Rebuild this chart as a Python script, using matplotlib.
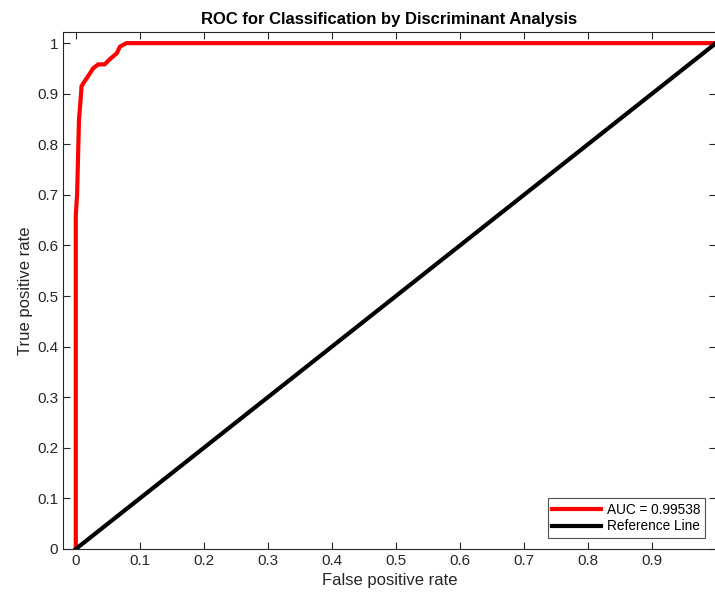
import matplotlib
matplotlib.use("Agg")
import matplotlib.pyplot as plt
import numpy as np

plt.rcParams['font.family'] = ['Liberation Sans', 'DejaVu Sans']

fpr = [0.0, 0.0, 0.0, 0.002, 0.003, 0.004, 0.005, 0.007, 0.009, 0.014, 0.022,
       0.027, 0.035, 0.045, 0.053, 0.064, 0.069, 0.079, 1.0]
tpr = [0.0, 0.45, 0.66, 0.70, 0.75, 0.80, 0.85, 0.88, 0.915, 0.925, 0.94,
       0.95, 0.958, 0.958, 0.968, 0.98, 0.993, 1.0, 1.0]
ref_x = [0.0, 1.0]
ref_y = [0.0, 1.0]
auc_label = "AUC = 0.99538"

axcol = '#262626'

fig = plt.figure(figsize=(7.15, 5.94), dpi=100)
ax = fig.add_axes([63 / 715, 45 / 594, 653 / 715, 517 / 594])

ax.plot(fpr, tpr, color='red', lw=3, label=auc_label, solid_joinstyle='miter')
ax.plot(ref_x, ref_y, color='black', lw=3, label="Reference Line")

ax.set_xlim(-0.02, 1.0)
ax.set_ylim(0, 1.022)
ax.set_xticks(np.arange(0, 1.01, 0.1))
# the "1" label falls off the right edge of the figure in the original
ax.set_xticklabels(['0', '0.1', '0.2', '0.3', '0.4', '0.5', '0.6', '0.7', '0.8', '0.9', ''])
ax.set_yticks(np.arange(0, 1.01, 0.1))
ax.set_yticklabels(['0', '0.1', '0.2', '0.3', '0.4', '0.5', '0.6', '0.7', '0.8', '0.9', '1'])
ax.tick_params(direction='in', length=5, width=0.8, colors=axcol, labelsize=11,
               top=True, right=True, labelcolor=axcol)
for s in ax.spines.values():
    s.set_color(axcol)
    s.set_linewidth(0.8)

ax.set_xlabel("False positive rate", fontsize=12, color=axcol, labelpad=4)
ax.set_ylabel("True positive rate", fontsize=12, color=axcol, labelpad=3)
ax.set_title("ROC for Classification by Discriminant Analysis", fontsize=12,
             fontweight='bold', pad=6)

leg = ax.legend(loc='lower right', fontsize=9.8, frameon=True, fancybox=False,
                handlelength=3.6, borderpad=0.35, labelspacing=0.2,
                handletextpad=0.4, borderaxespad=0.8)
leg.get_frame().set_edgecolor(axcol)
leg.get_frame().set_linewidth(0.8)

fig.savefig("out.png", dpi=100)
